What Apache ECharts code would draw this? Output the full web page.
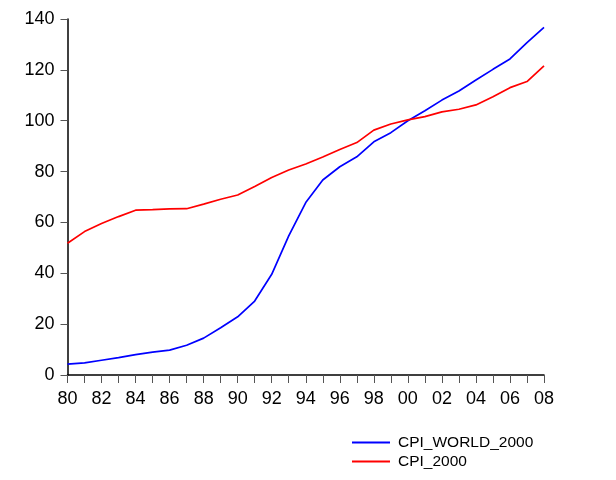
<!DOCTYPE html>
<html>
<head>
<meta charset="utf-8">
<script src="https://cdn.jsdelivr.net/npm/echarts@6/dist/echarts.min.js"></script>
<style>html,body{margin:0;padding:0;background:#fff}#c{width:616px;height:480px}</style>
</head>
<body>
<div id="c"></div>
<script>
var years = ['80','81','82','83','84','85','86','87','88','89','90','91','92','93','94','95','96','97','98','99','00','01','02','03','04','05','06','07','08'];
var cpiWorld2000 = [4.3,4.8,5.8,6.8,8.0,9.0,9.8,11.7,14.5,18.6,22.9,29.1,39.6,54.7,67.8,76.7,81.9,85.8,91.7,95.3,100.0,103.9,108.1,111.7,116.0,120.2,124.3,130.7,136.7];
var cpi2000 = [51.8,56.4,59.6,62.3,64.8,65.0,65.3,65.4,67.2,69.1,70.8,74.1,77.7,80.6,83.0,85.7,88.7,91.4,96.3,98.7,100.3,101.6,103.5,104.5,106.2,109.4,113.0,115.4,121.6];
var seriesNames = ['CPI_WORLD_2000', 'CPI_2000'];
var yTicks = {min: 0, max: 140, interval: 20};

var font = 'Liberation Sans, Arial, sans-serif';
function legendAt(name, top) {
  return {
    orient: 'vertical', left: 352, top: top, padding: 0,
    icon: 'rect', itemWidth: 38, itemHeight: 2, itemGap: 0,
    textStyle: {fontFamily: font, fontSize: 15.5, color: '#000', padding: [0, 0, 0, 3], lineHeight: 19},
    data: [name]
  };
}
var chart = echarts.init(document.getElementById('c'));
chart.setOption({
  animation: false,
  backgroundColor: '#fff',
  grid: {left: 67.5, right: 72, top: 19, bottom: 105, containLabel: false},
  legend: [legendAt(seriesNames[0], 433), legendAt(seriesNames[1], 452)],
  xAxis: {
    type: 'category', data: years, boundaryGap: false,
    axisLine: {lineStyle: {color: '#000', width: 1.5}},
    axisTick: {interval: 0, length: 8, lineStyle: {color: '#555'}},
    axisLabel: {interval: 1, color: '#000', fontFamily: font, fontSize: 18, margin: 15},
    splitLine: {show: false}
  },
  yAxis: {
    type: 'value', min: yTicks.min, max: yTicks.max, interval: yTicks.interval,
    axisLine: {show: true, lineStyle: {color: '#000', width: 1.5}},
    axisTick: {show: true, length: 7, lineStyle: {color: '#555'}},
    axisLabel: {color: '#000', fontFamily: font, fontSize: 18, margin: 13},
    splitLine: {show: false}
  },
  series: [
    {name: seriesNames[0], type: 'line', data: cpiWorld2000, symbol: 'none',
     lineStyle: {color: '#0000FF', width: 1.7}, itemStyle: {color: '#0000FF'}},
    {name: seriesNames[1], type: 'line', data: cpi2000, symbol: 'none',
     lineStyle: {color: '#FF0000', width: 1.7}, itemStyle: {color: '#FF0000'}}
  ]
});
</script>
</body>
</html>
